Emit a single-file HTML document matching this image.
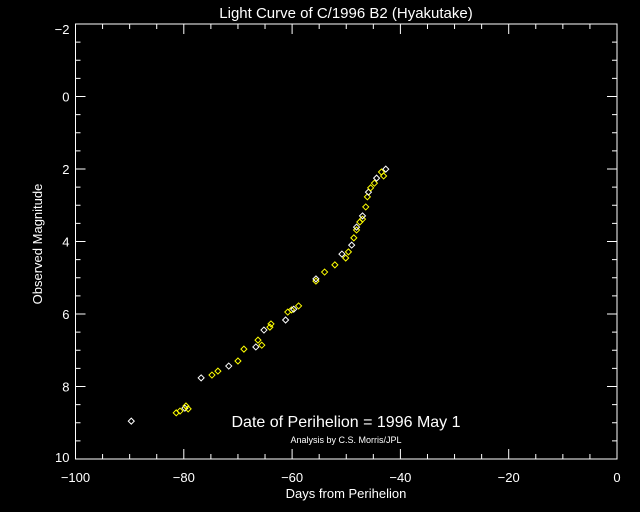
<!DOCTYPE html>
<html><head><meta charset="utf-8"><style>
html,body{margin:0;padding:0;background:#000;}
svg{display:block;}
text{font-family:"Liberation Sans",sans-serif;fill:#fff;}
</style></head><body>
<svg id="chart" width="640" height="512" viewBox="0 0 640 512">
<rect x="0" y="0" width="640" height="512" fill="#000"/>
<text x="346" y="18" font-size="15" text-anchor="middle">Light Curve of C/1996 B2 (Hyakutake)</text>
<text x="346" y="498" font-size="13" text-anchor="middle">Days from Perihelion</text>
<text x="0" y="0" font-size="13" text-anchor="middle" transform="translate(42,244) rotate(-90)">Observed Magnitude</text>
<text x="346" y="427" font-size="16" text-anchor="middle">Date of Perihelion = 1996 May 1</text>
<text x="346" y="443" font-size="9" text-anchor="middle">Analysis by C.S. Morris/JPL</text>
<g id="axes"></g>
<g id="points"></g>
</svg>
<script>
const xTicks = [-100, -80, -60, -40, -20, 0];
const yTicks = [-2, 0, 2, 4, 6, 8, 10];
const days = [-89.7,-81.4,-80.7,-79.8,-79.2,-79.6,-76.8,-74.8,-73.7,-71.7,-70.0,-68.9,-66.7,-66.3,-65.6,-65.2,-63.9,-64.1,-61.2,-60.8,-60.1,-59.7,-58.8,-55.6,-55.6,-54.0,-52.1,-50.8,-50.1,-49.6,-49.0,-48.6,-48.1,-48.1,-47.5,-47.0,-47.0,-46.4,-46.1,-45.9,-45.5,-44.8,-44.4,-43.5,-43.1,-42.7];
const mags = [8.955,8.727,8.677,8.598,8.618,8.538,7.763,7.684,7.575,7.436,7.297,6.969,6.909,6.721,6.860,6.443,6.274,6.363,6.165,5.946,5.887,5.867,5.777,5.092,5.032,4.843,4.645,4.347,4.456,4.287,4.099,3.900,3.682,3.602,3.463,3.384,3.294,3.046,2.768,2.639,2.520,2.391,2.252,2.083,2.192,2.003];

const L=75.5,R=617,T=24,B=459;
const xs=d=>L+(d+100)/100*(R-L);
const ys=m=>T+(m+2)/12*(B-T);
const NS='http://www.w3.org/2000/svg';
const ax=document.getElementById('axes');
function mk(tag,attrs,parent){const e=document.createElementNS(NS,tag);for(const k in attrs)e.setAttribute(k,attrs[k]);parent.appendChild(e);return e;}
const frame=mk('rect',{x:L,y:T,width:R-L,height:B-T,fill:'none',stroke:'#fff','stroke-width':1},ax);


for(let v=-100;v<=0;v+=5){
  const major=(v%20===0), len=major?10:5, x=xs(v);
  const t1=mk('line',{x1:x,y1:B,x2:x,y2:B-len,stroke:'#fff'},ax);
  
  
  const t2=mk('line',{x1:x,y1:T,x2:x,y2:T+len,stroke:'#fff'},ax);
  
  
}
xTicks.forEach(v=>{
  const t=mk('text',{x:xs(v),y:B+23,'font-size':13,'text-anchor':'middle'},ax);
  t.textContent=(v<0?'\u2212'+(-v):v);
  
  
});
for(let v=-2;v<=10;v+=0.5){
  const major=(v%2===0), len=major?10:5, y=ys(v);
  const t1=mk('line',{x1:L,y1:y,x2:L+len,y2:y,stroke:'#fff'},ax);
  
  
  const t2=mk('line',{x1:R,y1:y,x2:R-len,y2:y,stroke:'#fff'},ax);
  
  
}
yTicks.forEach((v,i)=>{
  const off = i===0 ? 10 : (i===yTicks.length-1 ? 3 : 5);
  const t=mk('text',{x:L-6,y:ys(v)+off,'font-size':13,'text-anchor':'end'},ax);
  t.textContent=(v<0?'\u2212'+(-v):v);
  
  
});
const pg=document.getElementById('points');
days.forEach((d,i)=>{
  const x=xs(d),y=ys(mags[i]),r=3;
  const col=(i%3===0)?'#ffffff':'#ffff00';
  const p=mk('polygon',{points:`${x},${y-r} ${x+r},${y} ${x},${y+r} ${x-r},${y}`,fill:'none',stroke:col,'stroke-width':1},pg);
  
  
});
</script>
</body></html>
